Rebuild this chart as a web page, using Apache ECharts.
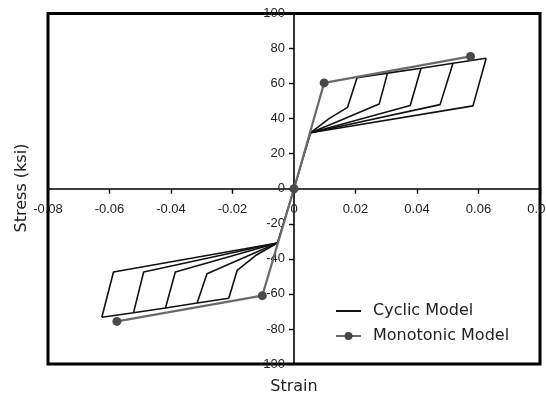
<!DOCTYPE html>
<html><head><meta charset="utf-8">
<script src="https://cdn.jsdelivr.net/npm/echarts@6/dist/echarts.min.js"></script>
<style>html,body{margin:0;padding:0;background:#fff}#c{width:546px;height:399px}</style>
</head><body><div id="c"></div>
<script>
// Axis ranges / ticks
const strainRange = [-0.08, 0.08];
const strainStep = 0.02;
const stressRange = [-100, 100];
const stressStep = 20;

// Monotonic model (strain, stress ksi)
const monotonicPoints = [[-0.0576,-75.7],[-0.0103,-61],[0,0],[0.0098,60.4],[0.0574,75.5]];

// Cyclic model branches
const elasticBranch = [[-0.0054,-31],[0,0],[0.0054,32]];
const posLoop1 = [[0.0054,32],[0.0114,40.0],[0.0174,46.4],[0.0205,63.3]];
const posLoop2 = [[0.0054,32],[0.0150,39.0],[0.0277,48.3],[0.0304,66.0]];
const posLoop3 = [[0.0054,32],[0.0378,47.5],[0.0413,68.8]];
const posLoop4 = [[0.0054,32],[0.0475,48.0],[0.0517,71.6]];
const posLoop5 = [[0.0054,32],[0.0582,47.3],[0.0625,74.5]];
const posEnvelope = [[0.0205,63.3],[0.0304,66.0],[0.0413,68.8],[0.0517,71.6],[0.0625,74.5]];
const negLoop1 = [[-0.0054,-31],[-0.0125,-38.1],[-0.0185,-46.6],[-0.0212,-62.5]];
const negLoop2 = [[-0.0054,-31],[-0.0283,-48.5],[-0.0315,-65.2]];
const negLoop3 = [[-0.0054,-31],[-0.0386,-47.5],[-0.0418,-68.0]];
const negLoop4 = [[-0.0054,-31],[-0.0489,-47.5],[-0.0522,-70.8]];
const negLoop5 = [[-0.0054,-31],[-0.0587,-47.5],[-0.0625,-73.3]];
const negEnvelope = [[-0.0212,-62.5],[-0.0315,-65.2],[-0.0418,-68.0],[-0.0522,-70.8],[-0.0625,-73.3]];

const cyclicBranches = [elasticBranch, posLoop1, posLoop2, posLoop3, posLoop4, posLoop5, posEnvelope,
  negLoop1, negLoop2, negLoop3, negLoop4, negLoop5, negEnvelope];

const FONT = '"Liberation Sans", Arial, sans-serif';
const FONT2 = '"DejaVu Sans", sans-serif';

// grid geometry
const G = { left: 48, right: 6, top: 13.5, bottom: 35, w: 546, h: 399 };
const plotW = G.w - G.left - G.right;
const plotH = G.h - G.top - G.bottom;

const series = cyclicBranches.map(d => ({
  name: 'Cyclic Model', type: 'line', data: d, symbol: 'none', z: 2,
  lineStyle: { color: '#111', width: 1.6 }, itemStyle: { color: '#111' }
}));
series.push({
  name: 'Monotonic Model', type: 'line', data: monotonicPoints, z: 3,
  symbol: 'circle', symbolSize: 9,
  lineStyle: { color: '#6a6a6a', width: 2.2 }, itemStyle: { color: '#4a4a4a' }
});

const chart = echarts.init(document.getElementById('c'), null, { renderer: 'canvas' });
chart.setOption({
  animation: false,
  backgroundColor: '#fff',
  grid: { left: G.left, right: G.right, top: G.top, bottom: G.bottom, containLabel: false, outerBoundsMode: 'none',
    show: true, borderColor: '#000', borderWidth: 3, backgroundColor: 'transparent' },
  xAxis: {
    type: 'value', min: strainRange[0], max: strainRange[1], interval: strainStep,
    position: 'bottom', offset: -plotH / 2,
    axisLine: { onZero: false, lineStyle: { color: '#000', width: 1.6 } },
    axisTick: { show: true, length: 5, lineStyle: { color: '#000', width: 1.4 } },
    axisLabel: { show: true, margin: 14, color: '#222', fontSize: 13, fontFamily: FONT, showMinLabel: true, showMaxLabel: true, hideOverlap: false },
    splitLine: { show: false }
  },
  yAxis: {
    type: 'value', min: stressRange[0], max: stressRange[1], interval: stressStep,
    position: 'left', offset: -plotW / 2,
    axisLine: { onZero: false, lineStyle: { color: '#000', width: 1.6 } },
    axisTick: { show: true, length: 5, lineStyle: { color: '#000', width: 1.4 } },
    axisLabel: { show: true, margin: 9, color: '#222', fontSize: 13, fontFamily: FONT, showMinLabel: true, showMaxLabel: true, hideOverlap: false },
    splitLine: { show: false }
  },
  legend: {
    data: [{ name: 'Cyclic Model', itemStyle: { opacity: 0 } }, { name: 'Monotonic Model' }],
    orient: 'vertical', left: 330, top: 298,
    itemWidth: 25, itemHeight: 10, itemGap: 9,
    textStyle: { fontSize: 16, fontFamily: FONT2, color: '#222', padding: [0, 0, 0, 7] },
    backgroundColor: 'transparent'
  },
  graphic: [
    { type: 'text', x: 22, y: 188, rotation: Math.PI / 2,
      style: { text: 'Stress (ksi)', fill: '#222', font: '16px ' + FONT2, align: 'center', verticalAlign: 'middle' } },
    { type: 'text', x: 294, y: 387,
      style: { text: 'Strain', fill: '#222', font: '16px ' + FONT2, align: 'center', verticalAlign: 'middle' } }
  ],
  series: series
});
</script></body></html>
